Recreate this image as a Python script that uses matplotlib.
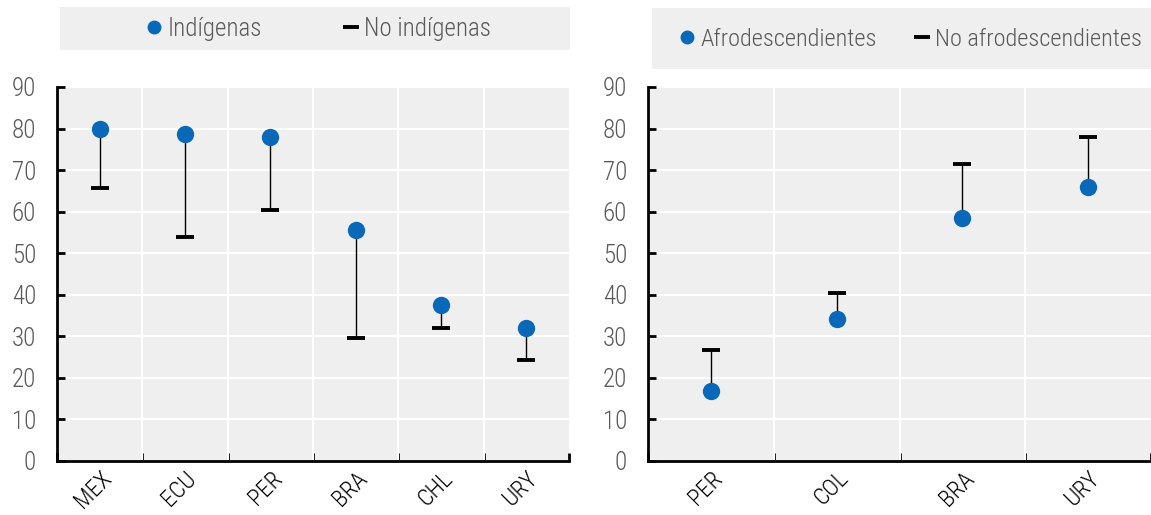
import matplotlib
matplotlib.use("Agg")
import matplotlib.pyplot as plt
from matplotlib.lines import Line2D
from matplotlib.patches import Rectangle
from matplotlib import font_manager

names = {f.name for f in font_manager.fontManager.ttflist}
fam = "Liberation Sans"
for cand in ["Liberation Sans Narrow", "Arial Narrow", "Roboto Condensed", "PT Sans Narrow",
             "Archivo Narrow", "Open Sans Condensed"]:
    if cand in names:
        fam = cand
        break
plt.rcParams['font.family'] = [fam, 'DejaVu Sans']
plt.rcParams['font.weight'] = 'light'

# Data
left_cats = ["MEX", "ECU", "PER", "BRA", "CHL", "URY"]
indigenas = [79.8, 78.8, 77.9, 55.5, 37.5, 32.0]
no_indigenas = [65.8, 53.8, 60.3, 29.7, 32.0, 24.3]

right_cats = ["PER", "COL", "BRA", "URY"]
afro = [16.8, 34.2, 58.4, 65.9]
no_afro = [26.7, 40.4, 71.5, 78.0]

W, H = 1151, 515
fig = plt.figure(figsize=(W / 100, H / 100), dpi=100)

BG = "#efefef"
BLUE = "#0a68b8"
GRAY = "#595959"
FS = 18

def make_ax(x0, x1, y0, y1):
    return fig.add_axes([x0 / W, 1 - y1 / H, (x1 - x0) / W, (y1 - y0) / H])

def style(ax, cats, a, b):
    n = len(cats)
    xs = list(range(n))
    ax.set_facecolor(BG)
    ax.set_xlim(-0.5, n - 0.5)
    ax.set_ylim(0, 90)
    for x, v1, v2 in zip(xs, a, b):
        ax.plot([x, x], [v1, v2], color="black", lw=1, zorder=2)
    ax.plot(xs, b, linestyle="none", marker="_", markersize=13, markeredgewidth=2.8,
            color="black", zorder=3)
    ax.plot(xs, a, linestyle="none", marker="o", markersize=12.5, color=BLUE,
            markeredgewidth=0, zorder=4)
    ax.set_yticks(range(0, 91, 10))
    ax.set_yticklabels([str(v) for v in range(0, 91, 10)], fontsize=FS, color=GRAY)
    bounds = [i - 0.5 for i in range(1, n)]
    for bx in bounds:
        ax.axvline(bx, color="white", lw=1.5, zorder=1)
    ax.grid(axis="y", color="white", lw=1.5, zorder=1)
    ax.set_axisbelow(True)
    ax.set_xticks(xs)
    ax.set_xticklabels(cats, rotation=45, ha="right", rotation_mode="anchor",
                       fontsize=17, color="black")
    ax.tick_params(axis="x", length=0, pad=4)
    ax.set_xticks([-0.5] + bounds + [n - 0.5], minor=True)
    ax.tick_params(axis="x", which="minor", direction="in", length=6, width=2, color="black")
    ax.tick_params(axis="y", direction="in", length=6, width=2, color="black", pad=15)
    for s in ["top", "right"]:
        ax.spines[s].set_visible(False)
    for s in ["left", "bottom"]:
        ax.spines[s].set_linewidth(2)

ax1 = make_ax(57, 569, 87, 461)
style(ax1, left_cats, indigenas, no_indigenas)
ax2 = make_ax(648, 1151, 87, 461)
style(ax2, right_cats, afro, no_afro)

fig.patches.append(Rectangle((60 / W, 1 - 50 / H), (570 - 60) / W, 43 / H,
                             transform=fig.transFigure, facecolor=BG, edgecolor="none", zorder=0))
fig.patches.append(Rectangle((652 / W, 1 - 69 / H), (1151 - 652) / W, 61 / H,
                             transform=fig.transFigure, facecolor=BG, edgecolor="none", zorder=0))

def legend(labels, cx, cy, spacing, fs):
    h = [Line2D([], [], linestyle="none", marker="o", markersize=10, color=BLUE, markeredgewidth=0),
         Line2D([], [], linestyle="none", marker="_", markersize=12, markeredgewidth=2.8, color="black")]
    fig.legend(h, labels, loc="center", bbox_to_anchor=(cx / W, 1 - cy / H), ncol=2,
               frameon=False, fontsize=fs, handlelength=0.7, handletextpad=0.2,
               columnspacing=spacing, labelcolor=GRAY)

legend(["Indígenas", "No indígenas"], 318, 29, 3.2, FS)
legend(["Afrodescendientes", "No afrodescendientes"], 910, 39, 1.5, 17.6)

fig.savefig("out.png", dpi=100)
